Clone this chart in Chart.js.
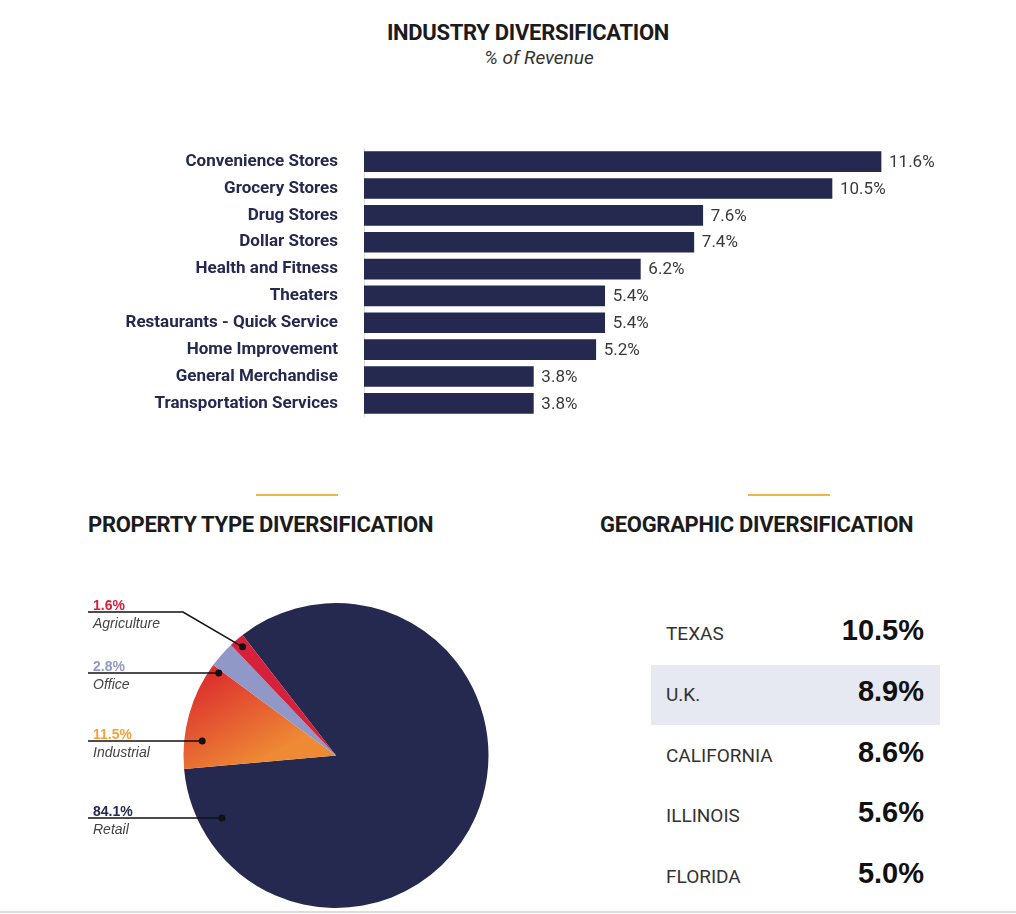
<!DOCTYPE html>
<html><head><meta charset="utf-8">
<script src="https://cdn.jsdelivr.net/npm/chart.js@4/dist/chart.umd.min.js"></script>
<style>
body{margin:0;background:#fff;width:1016px;height:914px;position:relative;overflow:hidden;font-family:Roboto,"Liberation Sans",sans-serif}
.abs{position:absolute}
h1{position:absolute;margin:0;font-size:22px;font-weight:700;color:#1b1b1b;letter-spacing:-0.3px}
.rule{position:absolute;height:2px;background:#f0b34a;width:82px;top:494px}
.geo{position:absolute;left:651px;width:289px;height:60px}
.geo span{position:absolute;left:15px;top:18px;font-size:19px;color:#333}
.geo b{position:absolute;right:16px;top:10px;font-size:29px;color:#111;font-family:"Liberation Sans",Arial,sans-serif}
</style></head><body>
<h1 style="left:0;width:1056px;text-align:center;top:20px">INDUSTRY DIVERSIFICATION</h1>
<div class="abs" style="left:0;width:1078px;text-align:center;top:46px;font-size:19px;font-style:italic;color:#333">% of Revenue</div>
<canvas id="bar" class="abs" width="1016" height="325" style="left:0;top:120px"></canvas>
<div class="rule" style="left:256px"></div><div class="rule" style="left:748px"></div>
<h1 style="left:88px;top:512px">PROPERTY TYPE DIVERSIFICATION</h1>
<h1 style="left:600px;top:512px">GEOGRAPHIC DIVERSIFICATION</h1>
<canvas id="pie" class="abs" width="420" height="324" style="left:80px;top:590px"></canvas>
<div id="geo"></div>
<div class="abs" style="left:0;top:911px;width:1016px;height:2px;background:#ddd"></div>
<script>
const industries = ['Convenience Stores','Grocery Stores','Drug Stores','Dollar Stores','Health and Fitness','Theaters','Restaurants - Quick Service','Home Improvement','General Merchandise','Transportation Services'];
const industryPct = [11.6,10.5,7.6,7.4,6.2,5.4,5.4,5.2,3.8,3.8];

const propTypes = ['Retail','Industrial','Office','Agriculture'];
const propPct = [84.1,11.5,2.8,1.6];

const states = ['TEXAS','U.K.','CALIFORNIA','ILLINOIS','FLORIDA'];
const statePct = [10.5,8.9,8.6,5.6,5.0];

const navy = '#25284f';

// geographic table
const geo = document.getElementById('geo');
states.forEach((s, i) => {
    const d = document.createElement('div');
    d.className = 'geo';
    d.style.top = (604 + i * 60.8) + 'px';
    if (i === 1) d.style.background = '#e6e8f2';
    d.innerHTML = `<span>${s}</span><b>${statePct[i].toFixed(1)}%</b>`;
    geo.appendChild(d);
});

// value labels at bar ends
const barValues = {
    id: 'barValues',
    afterDatasetsDraw(chart) {
        const ctx = chart.ctx;
        ctx.save();
        ctx.font = '17px Roboto, sans-serif';
        ctx.fillStyle = '#3a3a3a';
        ctx.textBaseline = 'middle';
        chart.getDatasetMeta(0).data.forEach((el, i) => {
            ctx.fillText(industryPct[i].toFixed(1) + '%', el.x + 8, el.y + 1);
        });
        ctx.restore();
    }
};

new Chart(document.getElementById('bar'), {
    type: 'bar',
    data: { labels: industries, datasets: [{ data: industryPct, backgroundColor: navy, barThickness: 20 }] },
    options: {
        indexAxis: 'y', responsive: false, animation: false,
        layout: { padding: { top: 0, right: 28, bottom: 0, left: 0 } },
        plugins: { legend: { display: false }, tooltip: { enabled: false } },
        scales: {
            x: { min: 0, max: 14, display: false },
            y: {
                afterFit(s) { s.width = 364; },
                grid: { display: false },
                border: { color: '#dcdcdc', width: 1 },
                ticks: { padding: 18, color: '#25284f', font: { size: 17, weight: 'bold', family: 'Roboto' } }
            }
        }
    },
    plugins: [barValues]
});

// pie labels with leader lines (y of the underline and inset of the dot from the rim)
const pieLabelY = { Agriculture: 22, Office: 83, Industrial: 151, Retail: 228 };
const dotInset = { Office: 11, Industrial: 18, Retail: 25 };
const pieColors = { Retail: '#25284f', Industrial: '#f2a23a', Office: '#8f98c6', Agriculture: '#d5213b' };
const pieNotes = {
    id: 'pieNotes',
    afterDatasetsDraw(chart) {
        const ctx = chart.ctx;
        const arcs = chart.getDatasetMeta(0).data;
        ctx.save();
        arcs.forEach((a, i) => {
            const name = propTypes[i];
            const ly = pieLabelY[name];
            let dx, dy;
            if (name === 'Agriculture') {
                const ang = (a.startAngle + a.endAngle) / 2;
                dx = a.x + Math.cos(ang) * a.outerRadius * 0.94;
                dy = a.y + Math.sin(ang) * a.outerRadius * 0.94;
            } else {
                const off = ly - a.y;
                dx = a.x - Math.sqrt(a.outerRadius * a.outerRadius - off * off) + dotInset[name];
                dy = ly;
            }
            ctx.strokeStyle = '#111'; ctx.lineWidth = 1.5;
            ctx.beginPath(); ctx.moveTo(8, ly);
            if (name === 'Agriculture') ctx.lineTo(103, ly);
            ctx.lineTo(dx, dy);
            ctx.stroke();
            ctx.fillStyle = '#111';
            ctx.beginPath(); ctx.arc(dx, dy, 3.5, 0, Math.PI * 2); ctx.fill();
            ctx.font = 'bold 14px "Liberation Sans", sans-serif';
            ctx.fillStyle = pieColors[name];
            ctx.fillText(propPct[i].toFixed(1) + '%', 13, ly - 2);
            ctx.font = 'italic 14px "Liberation Sans", sans-serif';
            ctx.fillStyle = '#444';
            ctx.fillText(name, 13, ly + 16);
        });
        ctx.restore();
    }
};

new Chart(document.getElementById('pie'), {
    type: 'pie',
    data: {
        labels: propTypes,
        datasets: [{
            data: propPct,
            borderWidth: 0,
            backgroundColor(c) {
                const name = propTypes[c.dataIndex];
                if (name !== 'Industrial') return pieColors[name];
                const area = c.chart.chartArea;
                if (!area) return '#e85a2a';
                const g = c.chart.ctx.createLinearGradient(area.left + 10, area.top + 80, area.left + 60, area.top + 170);
                g.addColorStop(0, '#dc2e2e');
                g.addColorStop(1, '#ee8a34');
                return g;
            }
        }]
    },
    options: {
        responsive: false, animation: false, rotation: -37.8,
        layout: { padding: { left: 100, right: 8, top: 13, bottom: 6 } },
        plugins: { legend: { display: false }, tooltip: { enabled: false } }
    },
    plugins: [pieNotes]
});
</script>
</body></html>
